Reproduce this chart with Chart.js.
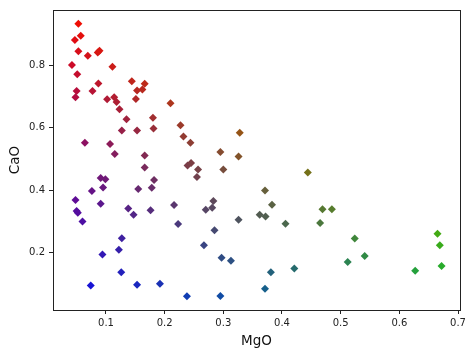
<!DOCTYPE html>
<html>
<head>
<meta charset="utf-8">
<script src="https://cdn.jsdelivr.net/npm/chart.js@4.4.0/dist/chart.umd.min.js"></script>
<style>
html,body{margin:0;padding:0;background:#fff;}
#wrap{width:474px;height:357px;}
</style>
</head>
<body>
<div id="wrap"><canvas id="c" width="474" height="357"></canvas></div>
<script>
const mgo = [0.053,0.057,0.047,0.053,0.069,0.086,0.089,0.042,0.051,0.111,0.087,0.050,0.048,0.077,0.144,0.166,0.162,0.153,0.151,0.102,0.114,0.118,0.123,0.135,0.210,0.180,0.227,0.181,0.127,0.153,
  0.232,0.244,0.064,0.107,0.115,0.166,0.166,0.239,0.245,0.255,0.257,0.091,0.099,0.095,0.076,0.182,0.155,0.178,0.048,0.091,0.050,0.052,0.060,0.138,0.147,0.176,0.216,0.223,0.127,0.122,
  0.094,0.126,0.074,0.153,0.192,0.238,
  0.328,0.295,0.326,0.300,0.444,0.371,0.383,0.283,0.281,0.270,0.469,0.485,
  0.326,0.362,0.372,0.406,0.465,0.285,0.267,0.297,0.313,0.381,0.421,0.371,0.295,
  0.524,0.541,0.512,0.665,0.669,0.672,0.627];
const cao = [0.932,0.894,0.880,0.844,0.830,0.840,0.846,0.800,0.771,0.795,0.741,0.717,0.697,0.717,0.748,0.740,0.722,0.719,0.692,0.691,0.697,0.682,0.659,0.627,0.678,0.632,0.608,0.597,0.591,0.591,
  0.572,0.552,0.552,0.548,0.516,0.511,0.473,0.479,0.487,0.442,0.466,0.439,0.435,0.409,0.398,0.433,0.404,0.408,0.369,0.357,0.334,0.328,0.300,0.342,0.322,0.336,0.353,0.292,0.247,0.210,
  0.195,0.138,0.096,0.098,0.101,0.061,
  0.584,0.522,0.508,0.466,0.457,0.399,0.354,0.366,0.344,0.338,0.339,0.339,
  0.306,0.322,0.316,0.293,0.295,0.272,0.224,0.184,0.175,0.138,0.150,0.085,0.062,
  0.246,0.190,0.171,0.261,0.224,0.158,0.143];
const xTicks = [0.1,0.2,0.3,0.4,0.5,0.6,0.7];
const yTicks = [0.2,0.4,0.6,0.8];
const xLabel = 'MgO';
const yLabel = 'CaO';

const clamp = v => Math.max(0, Math.min(255, Math.round(v * 255)));
const colors = mgo.map((m, i) => {
  const c = cao[i];
  return `rgb(${clamp(c)},${clamp(m)},${clamp(1 - c - m)})`;
});
const points = mgo.map((m, i) => ({x: m, y: cao[i]}));

const boxPlugin = {
  id: 'box',
  afterDraw(chart) {
    const {ctx, chartArea: a} = chart;
    ctx.save();
    ctx.strokeStyle = '#222';
    ctx.lineWidth = 1;
    ctx.strokeRect(Math.round(a.left) + 0.5, Math.round(a.top) + 0.5, Math.round(a.right - a.left), Math.round(a.bottom - a.top));
    ctx.restore();
  }
};

const tickFont = {family: 'DejaVu Sans', size: 10};
const titleFont = {family: 'DejaVu Sans', size: 13.5};

new Chart(document.getElementById('c'), {
  type: 'scatter',
  data: {
    datasets: [{
      data: points,
      pointStyle: 'rectRot',
      pointRadius: 4,
      pointHoverRadius: 4,
      borderWidth: 0,
      backgroundColor: colors,
      borderColor: colors
    }]
  },
  options: {
    responsive: false,
    animation: false,
    events: [],
    layout: {padding: {left: 0, right: 14, top: 7, bottom: 0}},
    plugins: {legend: {display: false}, tooltip: {enabled: false}},
    scales: {
      x: {
        type: 'linear',
        min: 0.0097,
        max: 0.7034,
        afterBuildTicks: s => { s.ticks = xTicks.map(v => ({value: v})); },
        afterFit: s => { s.height = 47; },
        ticks: {font: tickFont, color: '#222', padding: 3, callback: v => v.toFixed(1), maxRotation: 0, autoSkip: false},
        grid: {display: true, drawOnChartArea: false, drawTicks: true, tickLength: 4, color: '#222'},
        border: {display: true, color: '#222'},
        title: {display: true, text: xLabel, font: titleFont, color: '#111', padding: {top: 0, bottom: 7}}
      },
      y: {
        type: 'linear',
        min: 0.0174,
        max: 0.976,
        afterBuildTicks: s => { s.ticks = yTicks.map(v => ({value: v})); },
        afterFit: s => { s.width = 53; },
        ticks: {font: tickFont, color: '#222', padding: 4, callback: v => v.toFixed(1), autoSkip: false},
        grid: {display: true, drawOnChartArea: false, drawTicks: true, tickLength: 4, color: '#222'},
        border: {display: true, color: '#222'},
        title: {display: true, text: yLabel, font: titleFont, color: '#111', padding: {top: 7, bottom: 0}}
      }
    }
  },
  plugins: [boxPlugin]
});
</script>
</body>
</html>
